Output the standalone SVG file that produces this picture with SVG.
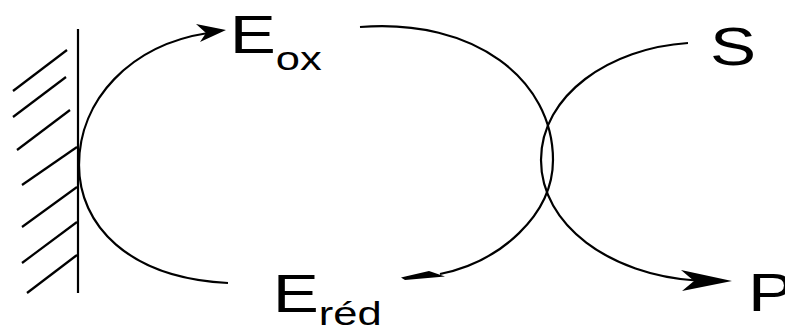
<svg xmlns="http://www.w3.org/2000/svg" width="785" height="327" viewBox="0 0 785 327">
<style>
.ln{fill:none;stroke:#000;stroke-width:2.2;stroke-linecap:butt}
.hd{fill:#000;stroke:none}
.big{font-family:"Liberation Sans",Arial,sans-serif;font-size:54px;fill:#000}
.sub{font-size:34px}
</style>
<rect width="785" height="327" fill="#fff"/>
<g id="electrode">
<line class="ln" x1="78" y1="29" x2="78" y2="293" stroke-width="2.6"/>
<line class="ln" x1="13" y1="91" x2="67" y2="50"/>
<line class="ln" x1="13" y1="117" x2="66" y2="77"/>
<line class="ln" x1="17" y1="150" x2="70" y2="110"/>
<line class="ln" x1="22" y1="185" x2="77" y2="147"/>
<line class="ln" x1="22" y1="227" x2="77" y2="187"/>
<line class="ln" x1="22" y1="263" x2="77" y2="222"/>
<line class="ln" x1="27" y1="293" x2="77" y2="255"/>
</g>
<g id="Eox">
<text class="big" transform="translate(229.7,53) scale(1.28,1)">E<tspan class="sub" dy="17">ox</tspan></text>
</g>
<g id="Ered">
<text class="big" transform="translate(272.7,312) scale(1.28,1)">E<tspan class="sub" dy="13">réd</tspan></text>
</g>
<g id="S">
<text class="big" transform="translate(710,65) scale(1.28,1)">S</text>
</g>
<g id="P">
<text class="big" transform="translate(748,311) scale(1.28,1)">P</text>
</g>
<g id="connectors">
<path class="ln" d="M228,283 C128,278 79,225 79,165 C79,100 130,45 208,33"/>
<path class="hd" d="M226,30 L196,24 L206,33 L200,42 Z"/>
<path class="ln" d="M360,27 C475,18 553,80 553,160 C553,215 500,262 440,274"/>
<path class="hd" d="M401,277.5 L429,271 L445,276.5 L405,280 Z"/>
<path class="ln" d="M688,43 C610,48 541,95 541,160 C541,225 610,275 696,280.5"/>
<path class="hd" d="M732,281 L681,270 L694,281 L682,291 Z"/>
</g>
</svg>
